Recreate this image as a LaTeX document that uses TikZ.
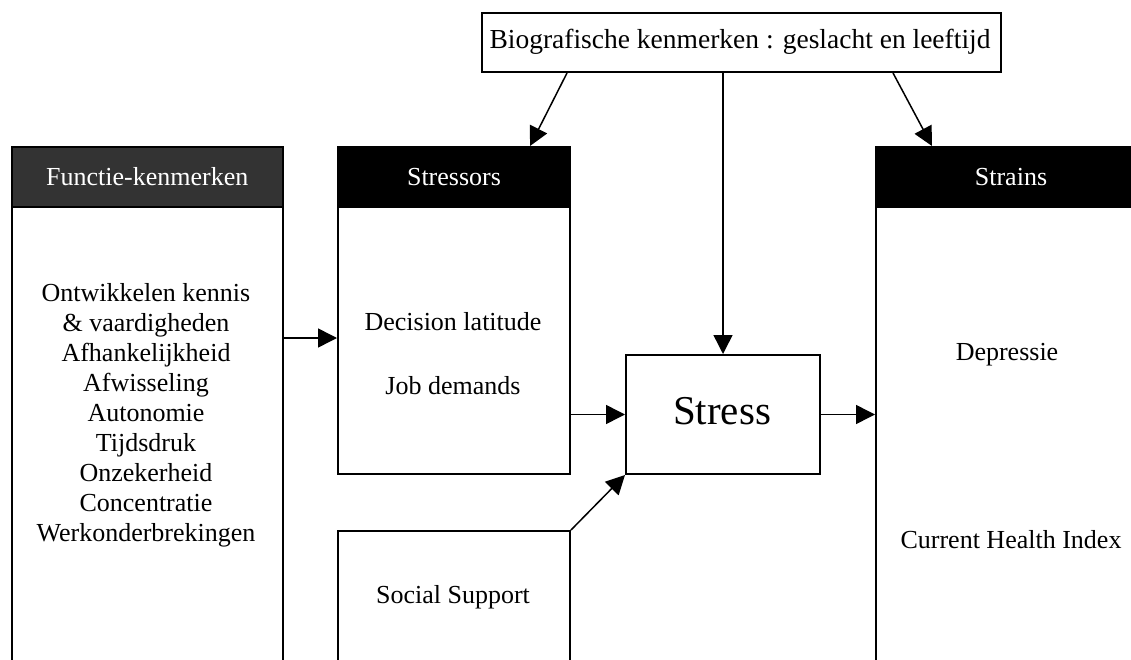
\documentclass[tikz,border=0pt]{standalone}
\usepackage{fontspec}
\setmainfont{Liberation Serif}
\usetikzlibrary{arrows.meta,calc}
\definecolor{fdark}{HTML}{333333}
\begin{document}
\begin{tikzpicture}[x=1pt,y=-1pt,
  lw/.style={line width=2pt},
  box/.style={draw=black, lw, fill=white, inner sep=0pt, anchor=north west},
  head/.style={box, fill=black, text=white, font=\fontsize{26}{30}\selectfont},
  lbl/.style={font=\fontsize{26}{30}\selectfont, align=center, inner sep=0pt},
  arr/.style={line width=1.5pt, -{Triangle[length=19pt,width=19pt]}},
  ]
\useasboundingbox (0,0) rectangle (1131,660);
\clip (0,0) rectangle (1131,660);

% boxes
\node[box, minimum width=519pt, minimum height=59pt] (bio) at (481,12) {};
\node[lbl, font=\fontsize{27.5}{32}\selectfont] (biotext) at (740,42) {Biografische kenmerken : geslacht en leeftijd};

\node[box, minimum width=271pt, minimum height=500pt] (funcbody) at (10.7,206) {};
\node[head, fill=fdark, minimum width=271pt, minimum height=60pt] (funchead) at (10.7,146) {Functie-kenmerken};

\node[box, minimum width=232pt, minimum height=267pt] (strbody) at (337,206) {};
\node[head, minimum width=232pt, minimum height=60pt] (strhead) at (337,146) {Stressors};

\node[box, minimum width=232pt, minimum height=200pt] (social) at (337,530) {};

\node[box, minimum width=194pt, minimum height=119pt] (stress) at (625,354) {};
\node[inner sep=0pt, font=\fontsize{41}{48}\selectfont] (stresstext) at (722,411) {Stress};

\node[box, minimum width=270pt, minimum height=500pt] (strainbody) at (875,206) {};
\node[head, minimum width=270pt, minimum height=60pt] (strainhead) at (875,146) {Strains};

% texts
\node[lbl] (functext) at (146,415) {Ontwikkelen kennis\\ \& vaardigheden\\ Afhankelijkheid\\ Afwisseling\\ Autonomie\\ Tijdsdruk\\ Onzekerheid\\ Concentratie\\ Werkonderbrekingen};
\node[lbl] (declat) at (453,322) {Decision latitude};
\node[lbl] (jobdem) at (453,386) {Job demands};
\node[lbl] (soctext) at (453,597) {Social Support};
\node[lbl] (depr) at (1007,355) {Depressie};
\node[lbl] (chi) at (1011,540) {Current Health Index};

% connectors
\coordinate (fa) at (0,338);
\draw[arr] (funcbody.east |- fa) -- (strbody.west |- fa);
\draw[arr] (strbody.east |- stress.west) -- (stress.west);
\draw[arr] (stress.east) -- (strainbody.west |- stress.east);
\draw[arr] (social.north east) -- (stress.south west);
\draw[arr] (bio.south -| stress.north) -- (stress.north);
\draw[arr] ([xshift=86pt]bio.south west) -- ([xshift=193pt]strhead.north west);
\draw[arr] ([xshift=412pt]bio.south west) -- ([xshift=57pt]strainhead.north west);
\end{tikzpicture}
\end{document}
